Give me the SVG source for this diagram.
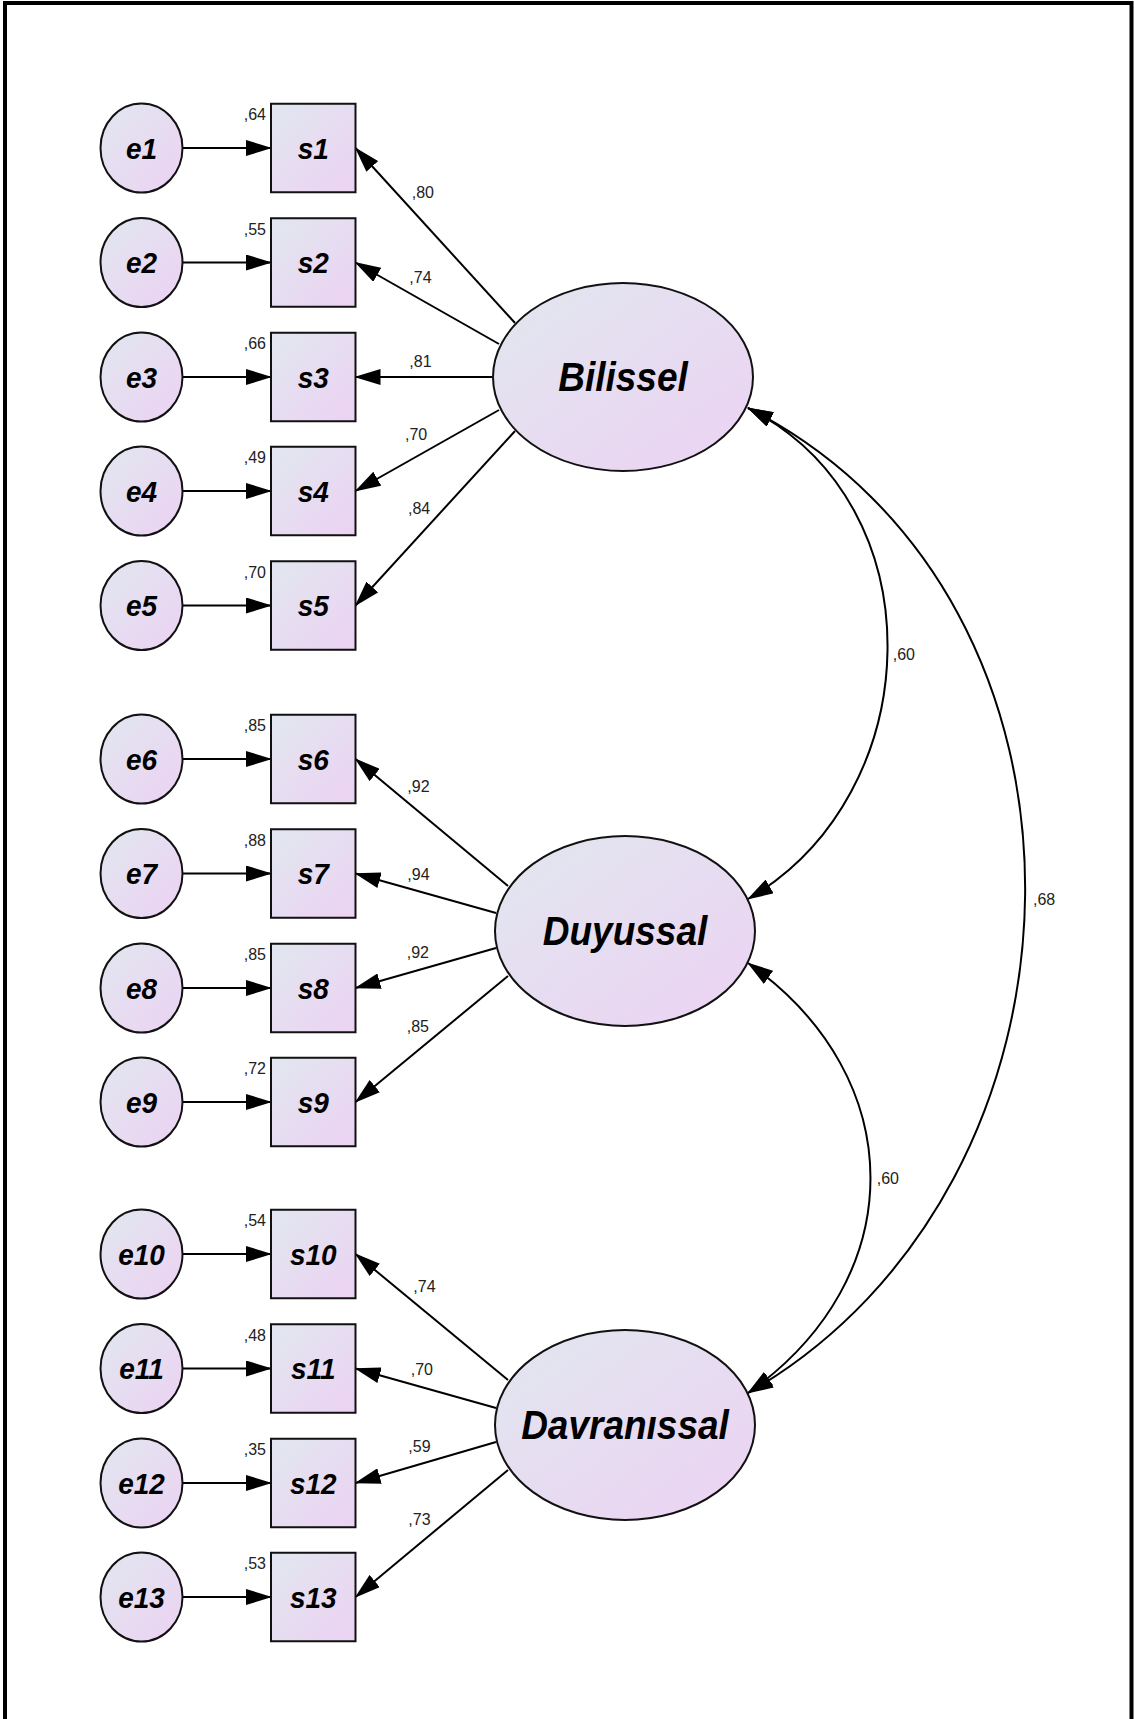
<svg xmlns="http://www.w3.org/2000/svg" width="1134" height="1719" viewBox="0 0 1134 1719">
  <defs>
    <linearGradient id="nodeFill" x1="0" y1="0" x2="1" y2="1">
      <stop offset="0" stop-color="#e1e7ef"/>
      <stop offset="1" stop-color="#ecd2f3"/>
    </linearGradient>
    <marker id="arrow" markerUnits="userSpaceOnUse" viewBox="0 0 26 16" markerWidth="26" markerHeight="16" refX="25" refY="8" orient="auto-start-reverse">
      <path d="M0,0 L26,8 L0,16 z" fill="#000"/>
    </marker>
    <style>
      .shape { fill: url(#nodeFill); stroke: #111; stroke-width: 2; }
      .obs { font-family: "Liberation Sans", Arial, sans-serif; font-weight: bold; font-style: italic; font-size: 28px; fill: #000; text-anchor: middle; }
      .lat { font-family: "Liberation Sans", Arial, sans-serif; font-weight: bold; font-style: italic; font-size: 37px; fill: #000; text-anchor: middle; }
      .num { font-family: "Liberation Sans", Arial, sans-serif; font-size: 16px; fill: #222; }
      .num-end { text-anchor: end; }
      .edge { fill: none; stroke: #000; stroke-width: 2; marker-end: url(#arrow); }
      .cov { fill: none; stroke: #000; stroke-width: 2; marker-start: url(#arrow); marker-end: url(#arrow); }
    </style>
  </defs>

  <rect x="0" y="0" width="1134" height="1719" fill="#fff"/>
  <!-- outer frame (bottom edge runs off the canvas) -->
  <rect x="5" y="3" width="1126.5" height="1760" fill="none" stroke="#000" stroke-width="4"/>

  <!-- connectors -->
  <g id="connectors">
    <!-- error terms to indicators -->
    <line class="edge" x1="182.5" y1="148" x2="271" y2="148"/>
    <line class="edge" x1="182.5" y1="262.5" x2="271" y2="262.5"/>
    <line class="edge" x1="182.5" y1="377" x2="271" y2="377"/>
    <line class="edge" x1="182.5" y1="491" x2="271" y2="491"/>
    <line class="edge" x1="182.5" y1="605.5" x2="271" y2="605.5"/>
    <line class="edge" x1="182.5" y1="759" x2="271" y2="759"/>
    <line class="edge" x1="182.5" y1="873.5" x2="271" y2="873.5"/>
    <line class="edge" x1="182.5" y1="988" x2="271" y2="988"/>
    <line class="edge" x1="182.5" y1="1102" x2="271" y2="1102"/>
    <line class="edge" x1="182.5" y1="1254" x2="271" y2="1254"/>
    <line class="edge" x1="182.5" y1="1368.5" x2="271" y2="1368.5"/>
    <line class="edge" x1="182.5" y1="1483" x2="271" y2="1483"/>
    <line class="edge" x1="182.5" y1="1597" x2="271" y2="1597"/>

    <!-- Bilissel loadings -->
    <line class="edge" x1="515" y1="323" x2="355.5" y2="148"/>
    <line class="edge" x1="499" y1="344" x2="355.5" y2="262.5"/>
    <line class="edge" x1="493" y1="377" x2="355.5" y2="377"/>
    <line class="edge" x1="499" y1="410" x2="355.5" y2="491"/>
    <line class="edge" x1="515" y1="431" x2="355.5" y2="605.5"/>

    <!-- Duyussal loadings -->
    <line class="edge" x1="508" y1="886" x2="355.5" y2="759"/>
    <line class="edge" x1="496" y1="913" x2="355.5" y2="873.5"/>
    <line class="edge" x1="496" y1="948" x2="355.5" y2="988"/>
    <line class="edge" x1="508" y1="976" x2="355.5" y2="1102"/>

    <!-- Davranissal loadings -->
    <line class="edge" x1="508" y1="1380" x2="355.5" y2="1254"/>
    <line class="edge" x1="496" y1="1408" x2="355.5" y2="1368.5"/>
    <line class="edge" x1="496" y1="1442" x2="355.5" y2="1483"/>
    <line class="edge" x1="508" y1="1470" x2="355.5" y2="1597"/>

    <!-- covariances -->
    <path class="cov" d="M748,408 C940,505 928,795 748,899"/>
    <path class="cov" d="M748,408 C1125,600 1110,1185 748,1393"/>
    <path class="cov" d="M748,963 C911.3,1077.4 911.3,1278.6 748,1393"/>

    <!-- loading estimates -->
    <text class="num" transform="translate(411.7 198.3) scale(1 1.08)">,80</text>
    <text class="num" transform="translate(409.3 282.7) scale(1 1.08)">,74</text>
    <text class="num" transform="translate(409.3 366.7) scale(1 1.08)">,81</text>
    <text class="num" transform="translate(405 440) scale(1 1.08)">,70</text>
    <text class="num" transform="translate(408 514) scale(1 1.08)">,84</text>
    <text class="num" transform="translate(407.3 791.7) scale(1 1.08)">,92</text>
    <text class="num" transform="translate(407.3 880) scale(1 1.08)">,94</text>
    <text class="num" transform="translate(406.7 958.3) scale(1 1.08)">,92</text>
    <text class="num" transform="translate(406.7 1031.7) scale(1 1.08)">,85</text>
    <text class="num" transform="translate(413.3 1291.7) scale(1 1.08)">,74</text>
    <text class="num" transform="translate(410.7 1375) scale(1 1.08)">,70</text>
    <text class="num" transform="translate(408.3 1451.7) scale(1 1.08)">,59</text>
    <text class="num" transform="translate(408.3 1525) scale(1 1.08)">,73</text>

    <!-- correlation estimates -->
    <text class="num" transform="translate(892.7 660) scale(1 1.08)">,60</text>
    <text class="num" transform="translate(1033 905) scale(1 1.08)">,68</text>
    <text class="num" transform="translate(876.7 1184) scale(1 1.08)">,60</text>
  </g>

  <!-- error terms -->
  <g id="e1"><ellipse class="shape" cx="141.5" cy="148" rx="41" ry="44.5"/><text class="obs" transform="translate(141.5 158.5) scale(1 1.08)">e1</text></g>
  <g id="e2"><ellipse class="shape" cx="141.5" cy="262.5" rx="41" ry="44.5"/><text class="obs" transform="translate(141.5 273) scale(1 1.08)">e2</text></g>
  <g id="e3"><ellipse class="shape" cx="141.5" cy="377" rx="41" ry="44.5"/><text class="obs" transform="translate(141.5 387.5) scale(1 1.08)">e3</text></g>
  <g id="e4"><ellipse class="shape" cx="141.5" cy="491" rx="41" ry="44.5"/><text class="obs" transform="translate(141.5 501.5) scale(1 1.08)">e4</text></g>
  <g id="e5"><ellipse class="shape" cx="141.5" cy="605.5" rx="41" ry="44.5"/><text class="obs" transform="translate(141.5 616) scale(1 1.08)">e5</text></g>
  <g id="e6"><ellipse class="shape" cx="141.5" cy="759" rx="41" ry="44.5"/><text class="obs" transform="translate(141.5 769.5) scale(1 1.08)">e6</text></g>
  <g id="e7"><ellipse class="shape" cx="141.5" cy="873.5" rx="41" ry="44.5"/><text class="obs" transform="translate(141.5 884) scale(1 1.08)">e7</text></g>
  <g id="e8"><ellipse class="shape" cx="141.5" cy="988" rx="41" ry="44.5"/><text class="obs" transform="translate(141.5 998.5) scale(1 1.08)">e8</text></g>
  <g id="e9"><ellipse class="shape" cx="141.5" cy="1102" rx="41" ry="44.5"/><text class="obs" transform="translate(141.5 1112.5) scale(1 1.08)">e9</text></g>
  <g id="e10"><ellipse class="shape" cx="141.5" cy="1254" rx="41" ry="44.5"/><text class="obs" transform="translate(141.5 1264.5) scale(1 1.08)">e10</text></g>
  <g id="e11"><ellipse class="shape" cx="141.5" cy="1368.5" rx="41" ry="44.5"/><text class="obs" transform="translate(141.5 1379) scale(1 1.08)">e11</text></g>
  <g id="e12"><ellipse class="shape" cx="141.5" cy="1483" rx="41" ry="44.5"/><text class="obs" transform="translate(141.5 1493.5) scale(1 1.08)">e12</text></g>
  <g id="e13"><ellipse class="shape" cx="141.5" cy="1597" rx="41" ry="44.5"/><text class="obs" transform="translate(141.5 1607.5) scale(1 1.08)">e13</text></g>

  <!-- observed indicators with squared multiple correlations -->
  <g id="s1"><rect class="shape" x="271" y="103.75" width="84.5" height="88.5"/><text class="obs" transform="translate(313.25 158.5) scale(1 1.08)">s1</text><text class="num num-end" transform="translate(266 120) scale(1 1.08)">,64</text></g>
  <g id="s2"><rect class="shape" x="271" y="218.25" width="84.5" height="88.5"/><text class="obs" transform="translate(313.25 273) scale(1 1.08)">s2</text><text class="num num-end" transform="translate(266 234.5) scale(1 1.08)">,55</text></g>
  <g id="s3"><rect class="shape" x="271" y="332.75" width="84.5" height="88.5"/><text class="obs" transform="translate(313.25 387.5) scale(1 1.08)">s3</text><text class="num num-end" transform="translate(266 349) scale(1 1.08)">,66</text></g>
  <g id="s4"><rect class="shape" x="271" y="446.75" width="84.5" height="88.5"/><text class="obs" transform="translate(313.25 501.5) scale(1 1.08)">s4</text><text class="num num-end" transform="translate(266 463) scale(1 1.08)">,49</text></g>
  <g id="s5"><rect class="shape" x="271" y="561.25" width="84.5" height="88.5"/><text class="obs" transform="translate(313.25 616) scale(1 1.08)">s5</text><text class="num num-end" transform="translate(266 577.5) scale(1 1.08)">,70</text></g>
  <g id="s6"><rect class="shape" x="271" y="714.75" width="84.5" height="88.5"/><text class="obs" transform="translate(313.25 769.5) scale(1 1.08)">s6</text><text class="num num-end" transform="translate(266 731) scale(1 1.08)">,85</text></g>
  <g id="s7"><rect class="shape" x="271" y="829.25" width="84.5" height="88.5"/><text class="obs" transform="translate(313.25 884) scale(1 1.08)">s7</text><text class="num num-end" transform="translate(266 845.5) scale(1 1.08)">,88</text></g>
  <g id="s8"><rect class="shape" x="271" y="943.75" width="84.5" height="88.5"/><text class="obs" transform="translate(313.25 998.5) scale(1 1.08)">s8</text><text class="num num-end" transform="translate(266 960) scale(1 1.08)">,85</text></g>
  <g id="s9"><rect class="shape" x="271" y="1057.75" width="84.5" height="88.5"/><text class="obs" transform="translate(313.25 1112.5) scale(1 1.08)">s9</text><text class="num num-end" transform="translate(266 1074) scale(1 1.08)">,72</text></g>
  <g id="s10"><rect class="shape" x="271" y="1209.75" width="84.5" height="88.5"/><text class="obs" transform="translate(313.25 1264.5) scale(1 1.08)">s10</text><text class="num num-end" transform="translate(266 1226) scale(1 1.08)">,54</text></g>
  <g id="s11"><rect class="shape" x="271" y="1324.25" width="84.5" height="88.5"/><text class="obs" transform="translate(313.25 1379) scale(1 1.08)">s11</text><text class="num num-end" transform="translate(266 1340.5) scale(1 1.08)">,48</text></g>
  <g id="s12"><rect class="shape" x="271" y="1438.75" width="84.5" height="88.5"/><text class="obs" transform="translate(313.25 1493.5) scale(1 1.08)">s12</text><text class="num num-end" transform="translate(266 1455) scale(1 1.08)">,35</text></g>
  <g id="s13"><rect class="shape" x="271" y="1552.75" width="84.5" height="88.5"/><text class="obs" transform="translate(313.25 1607.5) scale(1 1.08)">s13</text><text class="num num-end" transform="translate(266 1569) scale(1 1.08)">,53</text></g>

  <!-- latent factors -->
  <g id="Bilissel"><ellipse class="shape" cx="623" cy="377" rx="130" ry="94"/><text class="lat" transform="translate(623 391) scale(1 1.08)">Bilissel</text></g>
  <g id="Duyussal"><ellipse class="shape" cx="625" cy="931" rx="130" ry="95"/><text class="lat" transform="translate(625 945) scale(1 1.08)">Duyussal</text></g>
  <g id="Davranissal"><ellipse class="shape" cx="625" cy="1425" rx="130" ry="95"/><text class="lat" transform="translate(625 1439) scale(1 1.08)">Davranıssal</text></g>
</svg>
